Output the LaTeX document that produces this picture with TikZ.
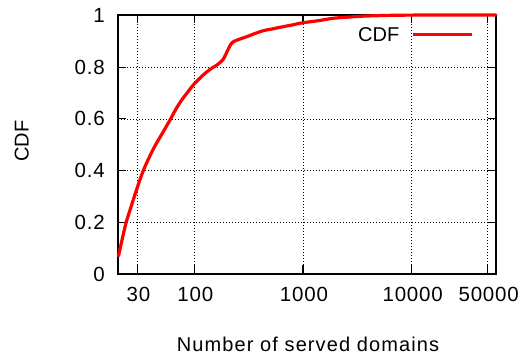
\documentclass[tikz,border=0pt]{standalone}
\usepackage{fontspec}
\setmainfont{Liberation Sans}
\newfontfamily\spacedfont[LetterSpace=4]{Liberation Sans}
\begin{document}
\begin{tikzpicture}[x=1pt,y=-1pt,
  gridline/.style={black, line width=0.7pt, dash pattern=on 0.9pt off 2.1pt},
  frameline/.style={black, line width=1.4pt},
  tickline/.style={black, line width=1.2pt},
  ticklabel/.style={font=\fontsize{20.5}{21}\spacedfont, inner sep=0pt},
  axislabel/.style={font=\fontsize{20}{21}\selectfont, inner sep=0pt},
  cdfline/.style={red, line width=3.2pt, line join=round, line cap=round}]
  \useasboundingbox[fill=white] (0,0) rectangle (524,358);

  % plot area: x from 20 to 60000 (log), y from 0 to 1
  \coordinate (ll) at (118,274);
  \coordinate (ur) at (496,15);

  % dotted grid
  \foreach \gx in {137.4,194.3,303.0,411.7,487.7}
    \draw[gridline] (\gx,274) -- (\gx,15);
  \foreach \gy in {222.3,170.6,118.9,67.2}
    \draw[gridline] (118,\gy) -- (496,\gy);

  % ticks on all four sides
  \foreach \gx in {137.4,194.3,303.0,411.7,487.7} {
    \draw[tickline] (\gx,274) -- (\gx,265);
    \draw[tickline] (\gx,15) -- (\gx,23);
  }
  \foreach \gy in {222.3,170.6,118.9,67.2} {
    \draw[tickline] (118,\gy) -- (126,\gy);
    \draw[tickline] (496,\gy) -- (488,\gy);
  }

  % frame
  \draw[frameline] (ll) rectangle (ur);

  % y tick labels
  \foreach \gy/\lab in {274/0,222.3/0.2,170.6/0.4,118.9/0.6,67.2/0.8,15/1}
    \node[ticklabel, anchor=east] (yl\lab) at (105,\gy) {\lab};

  % x tick labels
  \foreach \gx/\lab in {137.4/30,194.3/100,303.0/1000,411.7/10000,487.7/50000}
    \node[ticklabel, anchor=base] (xl\lab) at (\gx+1,301.5) {\lab};

  % axis titles
  \node[axislabel, font=\fontsize{20}{21}\addfontfeatures{LetterSpace=5.5}, anchor=base] (xtitle) at (308,351) {Number of served domains};
  \node[axislabel, rotate=90, anchor=base] (ytitle) at (28.5,141) {CDF};

  % legend
  \node[axislabel, anchor=base east] (legtext) at (399.5,41.7) {CDF};
  \coordinate (legA) at (413,34.7);
  \coordinate (legB) at (472,34.7);
  \draw[cdfline, line cap=butt] (legA) -- (legB);

  % empirical CDF curve
  \draw[cdfline] plot[smooth, tension=0.5] coordinates {
    (118.5,256) (122,240) (126,223) (130.5,208.5) (136,191.5)
    (143.3,170.6) (153.3,149) (163.3,131.7) (170,120)
    (176,109) (181.7,100) (187,93) (193.3,85) (200,78) (206.7,72)
    (212,68) (217,65) (222.7,60) (225.5,55) (228.3,49) (231,44)
    (233.3,41.7) (240,39) (246.7,36.7) (255,33.5) (263.3,30.7) (272,29)
    (280,27.3) (292,25) (303.3,22.7) (318.3,20.7) (333,18.3) (350,17)
    (366.7,16) (400,15.2) (450,15) (496,15)};
\end{tikzpicture}
\end{document}
